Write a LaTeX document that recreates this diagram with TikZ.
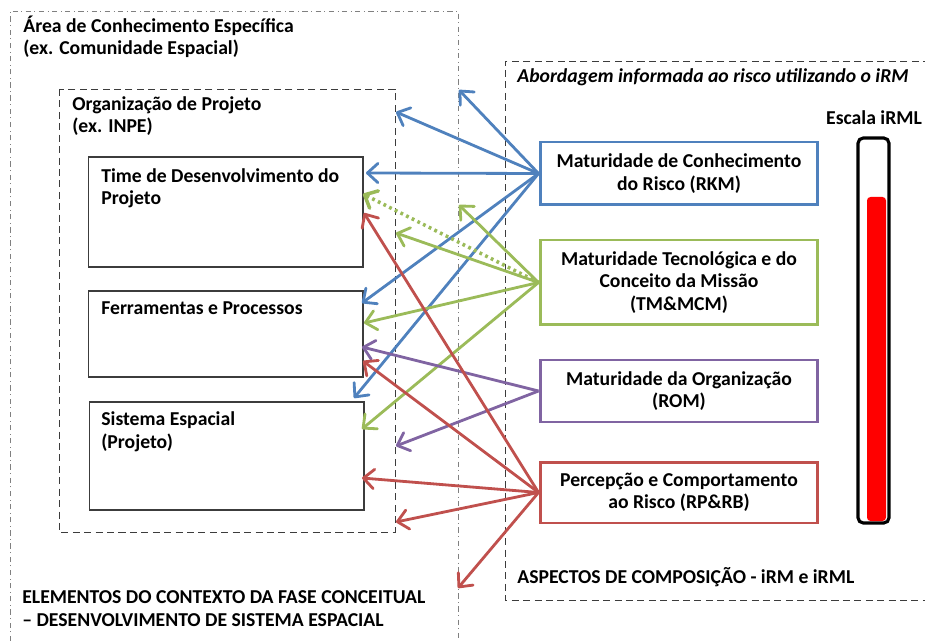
\documentclass[tikz,border=0pt]{standalone}
\usepackage{fontspec}
\setmainfont{Carlito}
\usetikzlibrary{arrows.meta,positioning}
\definecolor{rkmcol}{RGB}{79,129,189}
\definecolor{tmcol}{RGB}{155,187,89}
\definecolor{romcol}{RGB}{128,100,162}
\definecolor{rpcol}{RGB}{192,80,77}
\definecolor{framecol}{RGB}{60,60,60}

\begin{document}
\begin{tikzpicture}[x=0.02cm,y=-0.02cm,>={Straight Barb[length=6pt,width=11pt,round]},
  font=\fontsize{11.2}{12.8}\selectfont\bfseries,
  txt/.style={anchor=base west,inner sep=0pt,align=left},
  wbox/.style={draw=framecol,line width=0.6pt,minimum width=5.5cm,inner sep=0pt},
  aspect/.style={draw=#1,line width=1.7pt,fill=white,minimum width=5.56cm,
    align=center,inner sep=0pt},
  link/.style={->,line width=1.6pt,draw=#1},
  region/.style={draw=framecol,line width=0.5pt,dash pattern=on 4pt off 2.5pt}]
  \useasboundingbox (0,0) rectangle (925,641);
  % context frame (runs off the page) and the two dashed regions
  \draw[gray,line width=0.5pt,dash dot] (10,641) -- (10,11) -- (458,11) -- (458,641);
  \draw[region] (59,89) rectangle (395,532);
  \draw[region] (930,61) -- (505,61) -- (505,600) -- (930,600);
  % base = baseline of the last line
  \node[txt] (area) at (23,55) {Área de Conhecimento Específica\\(ex. Comunidade Espacial)};
  \node[txt] (org) at (72,133) {Organização de Projeto\\(ex. INPE)};
  \node[txt] (ctx) at (22,626) {ELEMENTOS DO CONTEXTO DA FASE CONCEITUAL\\– DESENVOLVIMENTO DE SISTEMA ESPACIAL};
  \node[txt,font=\fontsize{11.2}{12.8}\selectfont\bfseries\itshape] (abord) at (517,83)
      {Abordagem informada ao risco utilizando o iRM};
  \node[txt] (comp) at (517,583) {ASPECTOS DE COMPOSIÇÃO - iRM e iRML};
  % elements of the conceptual phase
  \node[wbox,minimum height=2.2cm] (time) at (225.5,212) {};
  \node[wbox,minimum height=1.72cm] (ferr) at (225.5,334) {};
  \node[wbox,minimum height=2.16cm] (sist) at (226.5,456) {};
  \node[txt] (timetxt) at (101,205) {Time de Desenvolvimento do\\Projeto};
  \node[txt] (ferrtxt) at (101,315) {Ferramentas e Processos};
  \node[txt] (sisttxt) at (101,448) {Sistema Espacial\\(Projeto)};
  % iRM aspects
  \node[aspect=rkmcol,minimum height=1.26cm] (rkm) at (679,173.5)
      {Maturidade de Conhecimento\\do Risco (RKM)};
  \node[aspect=tmcol,minimum height=1.7cm] (tm) at (679,282.5)
      {Maturidade Tecnológica e do\\Conceito da Missão\\(TM\&MCM)};
  \node[aspect=romcol,minimum height=1.24cm] (rom) at (679,391)
      {Maturidade da Organização\\(ROM)};
  \node[aspect=rpcol,minimum height=1.22cm] (rp) at (679,492.5)
      {Percepção e Comportamento\\ao Risco (RP\&RB)};
  % iRML scale
  \node[anchor=base] (escala) at (874,125) {Escala iRML};
  \draw[line width=1.8pt,rounded corners=3pt] (858,138) rectangle (889,523);
  \fill[red,rounded corners=2pt] (867,197) rectangle (886,521);
  % arrow ends on the frames and boxes
  \coordinate (b1) at (459,90);  \coordinate (b2) at (396,112);
  \coordinate (b3) at (366,173); \coordinate (b4) at (362,303);
  \coordinate (b5) at (354,398);
  \coordinate (g1) at (363,194); \coordinate (g2) at (459,205);
  \coordinate (g3) at (396,233); \coordinate (g4) at (364,323);
  \coordinate (g5) at (362,429);
  \coordinate (p1) at (362,347); \coordinate (p2) at (396,446);
  \coordinate (r1) at (364,213); \coordinate (r2) at (363,361);
  \coordinate (r3) at (362,478); \coordinate (r4) at (396,522);
  \coordinate (r5) at (458,588);
  \foreach \t in {b1,b2,b3,b4,b5} \draw[link=rkmcol] (rkm.west) -- (\t);
  \draw[link=tmcol,dotted,line width=2pt] (tm.west) -- (g1);
  \foreach \t in {g2,g3,g4,g5} \draw[link=tmcol] (tm.west) -- (\t);
  \foreach \t in {p1,p2} \draw[link=romcol] (rom.west) -- (\t);
  \foreach \t in {r1,r2,r3,r4,r5} \draw[link=rpcol] (rp.west) -- (\t);
\end{tikzpicture}
\end{document}
